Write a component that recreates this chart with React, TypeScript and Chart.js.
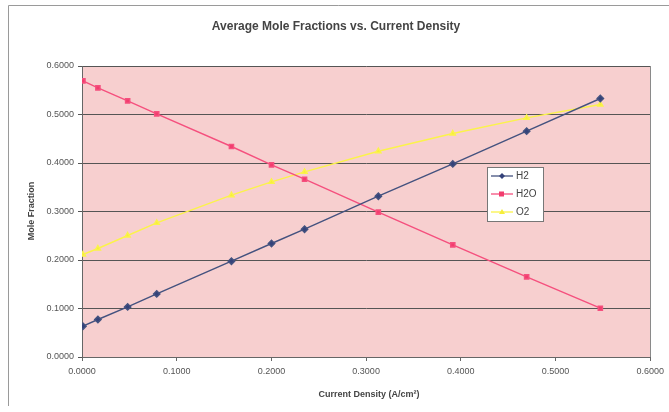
import React, { useEffect, useRef } from "react";
import { Chart, registerables } from "chart.js";

Chart.register(...registerables);

const currentDensity = [0.001, 0.0168, 0.0482, 0.0789, 0.1578, 0.2001, 0.235, 0.3129, 0.3915, 0.4695, 0.5473];
const h2 = [0.0635, 0.0773, 0.1033, 0.1301, 0.1975, 0.234, 0.2635, 0.3315, 0.3981, 0.4656, 0.533];
const h2o = [0.5693, 0.5548, 0.528, 0.5012, 0.434, 0.3961, 0.3666, 0.2986, 0.2311, 0.1652, 0.1006];
const o2 = [0.2113, 0.2237, 0.2505, 0.2765, 0.3336, 0.361, 0.3816, 0.4243, 0.4608, 0.493, 0.5206];
const seriesNames = ["H2", "H2O", "O2"];
const chartTitle = "Average Mole Fractions vs. Current Density";
const xTitle = "Current Density (A/cm\u00B2)";
const yTitle = "Mole Fraction";

const FONT = "Arial, 'Liberation Sans', sans-serif";

const decorPlugin = {
  id: "decor",
  beforeDraw(chart: any) {
    const { ctx, chartArea } = chart;
    ctx.save();
    ctx.fillStyle = "#ffffff";
    ctx.fillRect(0, 0, chart.width, chart.height);
    ctx.strokeStyle = "#9a9a9a";
    ctx.lineWidth = 1;
    ctx.beginPath();
    ctx.moveTo(8.5, 406);
    ctx.lineTo(8.5, 5.5);
    ctx.lineTo(669, 5.5);
    ctx.stroke();
    ctx.fillStyle = "#f7cfcf";
    ctx.fillRect(chartArea.left, chartArea.top, chartArea.right - chartArea.left, chartArea.bottom - chartArea.top);
    ctx.restore();
  },
  afterDraw(chart: any) {
    const { ctx, chartArea } = chart;
    ctx.save();
    ctx.strokeStyle = "#8a8a8a";
    ctx.lineWidth = 1;
    ctx.beginPath();
    ctx.moveTo(Math.round(chartArea.right) + 0.5, chartArea.top);
    ctx.lineTo(Math.round(chartArea.right) + 0.5, chartArea.bottom);
    ctx.stroke();
    ctx.fillStyle = "#444444";
    ctx.font = `bold 12px ${FONT}`;
    ctx.textAlign = "center";
    ctx.textBaseline = "middle";
    ctx.fillText(chartTitle, 336, 27);
    ctx.font = `bold 9px ${FONT}`;
    ctx.fillText(xTitle, 369, 395);
    ctx.save();
    ctx.translate(32, 211);
    ctx.rotate(-Math.PI / 2);
    ctx.fillText(yTitle, 0, 0);
    ctx.restore();
    const bx = 487, by = 167, bw = 56, bh = 54;
    ctx.fillStyle = "#ffffff";
    ctx.fillRect(bx, by, bw, bh);
    ctx.strokeStyle = "#777777";
    ctx.strokeRect(bx + 0.5, by + 0.5, bw, bh);
    chart.data.datasets.forEach((ds: any, i: number) => {
      const y = 176 + i * 18;
      ctx.strokeStyle = ds.borderColor;
      ctx.lineWidth = 1.3;
      ctx.beginPath();
      ctx.moveTo(491, y);
      ctx.lineTo(513, y);
      ctx.stroke();
      ctx.fillStyle = ds.backgroundColor;
      const s = ds.pointStyle;
      if (s === "rect") {
        ctx.fillRect(499, y - 2.5, 5, 5);
      } else if (s === "rectRot") {
        ctx.beginPath();
        ctx.moveTo(502, y - 3);
        ctx.lineTo(505, y);
        ctx.lineTo(502, y + 3);
        ctx.lineTo(499, y);
        ctx.closePath();
        ctx.fill();
      } else {
        ctx.beginPath();
        ctx.moveTo(502, y - 3);
        ctx.lineTo(505, y + 2);
        ctx.lineTo(499, y + 2);
        ctx.closePath();
        ctx.fill();
      }
      ctx.fillStyle = "#444444";
      ctx.font = `10px ${FONT}`;
      ctx.textAlign = "left";
      ctx.fillText(ds.label, 516, y + 0.5);
    });
    ctx.restore();
  },
};

function toPoints(ys: number[]) {
  return ys.map((y, i) => ({ x: currentDensity[i], y }));
}

export default function App() {
  const ref = useRef<HTMLCanvasElement>(null);
  useEffect(() => {
    if (!ref.current) return;
    const chart = new Chart(ref.current, {
      type: "line",
      data: {
        datasets: [
          {
            label: seriesNames[0],
            data: toPoints(h2),
            borderColor: "#44527f",
            backgroundColor: "#34427a",
            pointStyle: "rectRot",
            pointRadius: 3.2,
            borderWidth: 1.4,
          },
          {
            label: seriesNames[1],
            data: toPoints(h2o),
            borderColor: "#f5507e",
            backgroundColor: "#f23d6e",
            pointStyle: "rect",
            pointRadius: 3,
            borderWidth: 1.4,
          },
          {
            label: seriesNames[2],
            data: toPoints(o2),
            borderColor: "#fbf34a",
            backgroundColor: "#f6ee3a",
            pointStyle: "triangle",
            pointRadius: 3,
            borderWidth: 1.4,
          },
        ],
      },
      options: {
        responsive: false,
        animation: false,
        layout: { padding: { left: 0, right: 669 - 655, top: 66, bottom: 0 } },
        plugins: { legend: { display: false }, title: { display: false }, tooltip: { enabled: false } },
        scales: {
          x: {
            type: "linear",
            min: 0,
            max: 0.6,
            ticks: {
              stepSize: 0.1,
              callback: (v: any) => Number(v).toFixed(4),
              color: "#555555",
              font: { family: FONT, size: 9 },
              padding: 5,
              maxRotation: 0,
            },
            grid: { drawOnChartArea: false, color: "#666666", tickLength: 4 },
            border: { color: "#666666" },
            afterFit: (s: any) => { s.height = 412 - 357; },
          },
          y: {
            min: 0,
            max: 0.6,
            ticks: {
              stepSize: 0.1,
              callback: (v: any) => Number(v).toFixed(4),
              color: "#555555",
              font: { family: FONT, size: 9 },
              padding: 4,
            },
            grid: { color: "#555555", tickLength: 4 },
            border: { color: "#666666" },
            afterFit: (s: any) => { s.width = 82; },
          },
        },
      },
      plugins: [decorPlugin],
    });
    return () => chart.destroy();
  }, []);
  return (
    <div style={{ position: "absolute", left: 0, top: 0, width: 669, height: 412 }}>
      <canvas ref={ref} width={669} height={412} style={{ width: 669, height: 412 }} />
    </div>
  );
}
